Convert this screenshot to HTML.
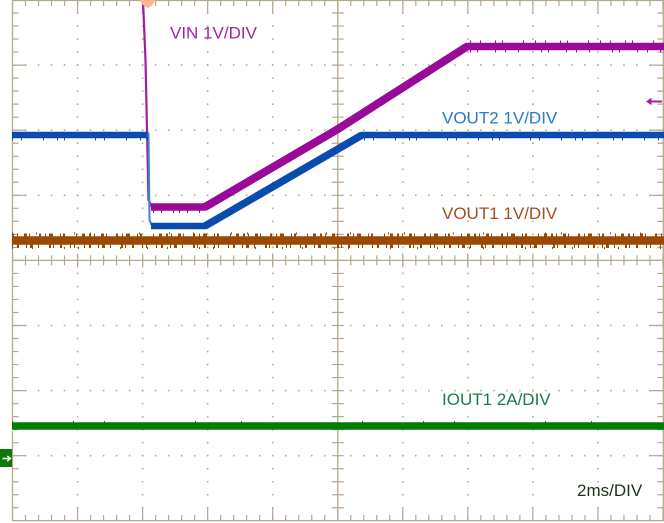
<!DOCTYPE html>
<html><head><meta charset="utf-8"><style>
html,body{margin:0;padding:0;background:#fff;}
svg{display:block;}
text{font-family:"Liberation Sans",sans-serif;font-size:17px;}
</style></head><body>
<svg width="664" height="523" viewBox="0 0 664 523" xmlns="http://www.w3.org/2000/svg">
<rect width="664" height="523" fill="#fff"/>
<!-- grid dots -->
<g fill="none" stroke="#b4ab94" stroke-width="1.6">
 <g stroke-dasharray="1.6 11.42" stroke-dashoffset="0.8">
  <path d="M77.55,0V521M142.6,0V521M207.65,0V521M272.7,0V521M402.8,0V521M467.85,0V521M532.9,0V521M597.95,0V521"/>
 </g>
 <g stroke-dasharray="1.6 11.41" stroke-dashoffset="0.8">
  <path d="M12.5,65.1H663M12.5,130.2H663M12.5,195.3H663M12.5,325.5H663M12.5,390.6H663M12.5,455.7H663"/>
 </g>
</g>
<!-- borders, axes, ticks -->
<g fill="none" stroke="#b2a98f">
 <path d="M12.5,0V521M12,520.6H664M12,0.5H664M663.3,0V521" stroke-width="1.3"/>
 <path d="M12.5,260.4H663M337.75,0V521" stroke-width="1.3"/>
 <path d="M15.5,0V521" stroke-width="6" stroke-dasharray="1.2 11.82" stroke-dashoffset="0.6"/>
 <path d="M19.5,0V521" stroke-width="14" stroke-dasharray="1.2 63.9" stroke-dashoffset="0.6"/>
 <path d="M660.3,0V521" stroke-width="6" stroke-dasharray="1.2 11.82" stroke-dashoffset="0.6"/>
 <path d="M656.3,0V521" stroke-width="14" stroke-dasharray="1.2 63.9" stroke-dashoffset="0.6"/>
 <path d="M12.5,3H664" stroke-width="6" stroke-dasharray="1.2 11.81" stroke-dashoffset="0.6"/>
 <path d="M12.5,6.5H664" stroke-width="13" stroke-dasharray="1.2 63.85" stroke-dashoffset="0.6"/>
 <path d="M12.5,518H664" stroke-width="6" stroke-dasharray="1.2 11.81" stroke-dashoffset="0.6"/>
 <path d="M12.5,514.5H664" stroke-width="13" stroke-dasharray="1.2 63.85" stroke-dashoffset="0.6"/>
 <path d="M12.5,260.4H664" stroke-width="10" stroke-dasharray="1.2 11.81" stroke-dashoffset="0.6"/>
 <path d="M12.5,260.4H664" stroke-width="14" stroke-dasharray="1.2 63.85" stroke-dashoffset="0.6"/>
 <path d="M337.75,0V521" stroke-width="12" stroke-dasharray="1.2 11.82" stroke-dashoffset="0.6"/>
</g>

<!-- IOUT1 green -->
<path d="M12,426H664" stroke="#007d00" stroke-width="7.5" fill="none"/>
<path d="M12,422H664" stroke="#007d00" stroke-width="2" fill="none" stroke-dasharray="1 60 1 30 1 90 1 45 1 120"/>
<path d="M12,430.5H664" stroke="#ffffff" stroke-width="1.2" fill="none" stroke-dasharray="1 7 1 12 1 5 1 18 1 9 1 25"/>

<!-- VOUT1 brown -->
<path d="M12,240.5H664" stroke="#9a4a00" stroke-width="8.5" fill="none"/>
<path d="M12,236H664" stroke="#9a4a00" stroke-width="5" fill="none" stroke-dasharray="2 3 1 6 3 2 1 9 2 4 1 3 4 7 1 2 2 11 1 5 3 4"/>
<path d="M12,245.5H664" stroke="#9a4a00" stroke-width="5" fill="none" stroke-dasharray="1 4 2 7 1 3 3 5 1 10 2 2 1 6 2 8 1 3 1 9"/>
<path d="M12,233.5H664" stroke="#9a4a00" stroke-width="2" fill="none" stroke-dasharray="1 23 1 37 1 15 1 48 1 29"/>
<path d="M12,248H664" stroke="#9a4a00" stroke-width="2" fill="none" stroke-dasharray="1 19 1 31 1 13 1 41 1 26"/>

<!-- VIN magenta -->
<path d="M143,0 L145.5,60 L147,130 L148.5,200 L152,207" stroke="#a01ca0" stroke-width="2.2" fill="none"/>
<path d="M151,207 H205 L338,129 L467,46.5 H664" stroke="#990a99" stroke-width="7.5" fill="none" stroke-linejoin="round"/>
<path d="M205,207 L338,129 L467,46.5" stroke="#990a99" stroke-width="8" fill="none" stroke-linejoin="round"/>
<path d="M470,42H664" stroke="#990a99" stroke-width="3" fill="none" stroke-dasharray="1 9 1 14 1 6 1 20 1 11"/>
<path d="M470,51H664" stroke="#990a99" stroke-width="3" fill="none" stroke-dasharray="1 6 1 17 1 9 1 12 1 22"/>
<path d="M153,211.5H205" stroke="#990a99" stroke-width="3" fill="none" stroke-dasharray="1 7 1 11 1 5"/>

<!-- VOUT2 blue -->
<path d="M12,135 H148.5" stroke="#0a4cae" stroke-width="6.5" fill="none"/>
<path d="M148.5,133 L149.5,220 L152.5,227" stroke="#3c86d0" stroke-width="2" fill="none"/>
<path d="M151,226 H205 L338,149 L362,135 H664" stroke="#0a4cae" stroke-width="6.5" fill="none" stroke-linejoin="round"/>
<path d="M205,226 L338,149 L362,135" stroke="#0a4cae" stroke-width="7.5" fill="none" stroke-linejoin="round"/>
<path d="M12,139H148M364,139H664" stroke="#0a4cae" stroke-width="3" fill="none" stroke-dasharray="1 8 1 21 1 13 1 6 1 30"/>

<!-- markers -->
<path d="M140,0 H155 Q154,5 148,8 Q142,6 140,0Z" fill="#f9b592"/>
<rect x="0" y="449" width="12" height="18" fill="#0a7a0a"/>
<path d="M2.5,458.5 H10 M7.3,456 L10.3,458.5 L7.3,461" stroke="#fff" stroke-width="1.5" fill="none"/>
<path d="M649,101.5 H662" stroke="#a020a0" stroke-width="2" fill="none"/>
<path d="M646,101.5 L651.5,97.8 L651.5,105.2Z" fill="#a020a0"/>

<!-- labels -->
<text x="170" y="38.3" fill="#a3249f">VIN 1V/DIV</text>
<text x="442" y="123.3" fill="#2a78c6">VOUT2 1V/DIV</text>
<text x="442" y="219" fill="#a0501a">VOUT1 1V/DIV</text>
<text x="442" y="405" fill="#187c4c">IOUT1 2A/DIV</text>
<text x="577" y="496" fill="#1c321c">2ms/DIV</text>
</svg>
</body></html>
